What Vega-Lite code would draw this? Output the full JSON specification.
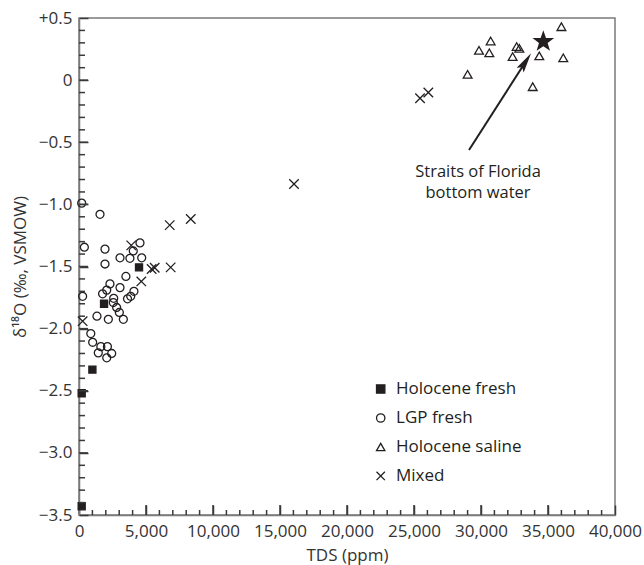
{
  "$schema": "https://vega.github.io/schema/vega-lite/v6.json",
  "width": 536,
  "height": 497,
  "autosize": {"type": "none"},
  "padding": {"left": 79, "top": 18, "right": 29, "bottom": 50},
  "config": {
    "font": "Open Sans",
    "view": {"stroke": "#7a7a7a", "strokeWidth": 1.5},
    "axis": {
      "grid": false,
      "labelOverlap": false,
      "labelFlush": false,
      "domainColor": "#7a7a7a",
      "domainWidth": 1.5,
      "tickColor": "#3a3a3a",
      "tickWidth": 1.5,
      "labelColor": "#333333",
      "labelFontSize": 17,
      "titleFontSize": 17,
      "titleFontWeight": "normal",
      "titleColor": "#333333"
    }
  },
  "resolve": {"axis": {"x": "independent", "y": "independent"}},
  "datasets": {
    "samples": [
      {"series": "Holocene fresh", "tds": 200, "d18o": -3.43},
      {"series": "Holocene fresh", "tds": 200, "d18o": -2.52},
      {"series": "Holocene fresh", "tds": 1000, "d18o": -2.33},
      {"series": "Holocene fresh", "tds": 1870, "d18o": -1.80},
      {"series": "Holocene fresh", "tds": 4480, "d18o": -1.507},
      {"series": "LGP fresh", "tds": 200, "d18o": -0.99},
      {"series": "LGP fresh", "tds": 1567, "d18o": -1.08},
      {"series": "LGP fresh", "tds": 400, "d18o": -1.345},
      {"series": "LGP fresh", "tds": 1940, "d18o": -1.36},
      {"series": "LGP fresh", "tds": 4550, "d18o": -1.31},
      {"series": "LGP fresh", "tds": 4050, "d18o": -1.375},
      {"series": "LGP fresh", "tds": 3060, "d18o": -1.43},
      {"series": "LGP fresh", "tds": 3800, "d18o": -1.434},
      {"series": "LGP fresh", "tds": 4680, "d18o": -1.43},
      {"series": "LGP fresh", "tds": 1940, "d18o": -1.48},
      {"series": "LGP fresh", "tds": 3500, "d18o": -1.58},
      {"series": "LGP fresh", "tds": 2310, "d18o": -1.64},
      {"series": "LGP fresh", "tds": 3060, "d18o": -1.67},
      {"series": "LGP fresh", "tds": 2070, "d18o": -1.69},
      {"series": "LGP fresh", "tds": 1760, "d18o": -1.72},
      {"series": "LGP fresh", "tds": 270, "d18o": -1.74},
      {"series": "LGP fresh", "tds": 2590, "d18o": -1.756},
      {"series": "LGP fresh", "tds": 4100, "d18o": -1.70},
      {"series": "LGP fresh", "tds": 3860, "d18o": -1.74},
      {"series": "LGP fresh", "tds": 3620, "d18o": -1.76},
      {"series": "LGP fresh", "tds": 2560, "d18o": -1.79},
      {"series": "LGP fresh", "tds": 2810, "d18o": -1.83},
      {"series": "LGP fresh", "tds": 3010, "d18o": -1.87},
      {"series": "LGP fresh", "tds": 3310, "d18o": -1.925},
      {"series": "LGP fresh", "tds": 1340, "d18o": -1.90},
      {"series": "LGP fresh", "tds": 2190, "d18o": -1.925},
      {"series": "LGP fresh", "tds": 880, "d18o": -2.04},
      {"series": "LGP fresh", "tds": 1020, "d18o": -2.11},
      {"series": "LGP fresh", "tds": 1630, "d18o": -2.145},
      {"series": "LGP fresh", "tds": 2120, "d18o": -2.145},
      {"series": "LGP fresh", "tds": 1440, "d18o": -2.195},
      {"series": "LGP fresh", "tds": 2440, "d18o": -2.20},
      {"series": "LGP fresh", "tds": 2070, "d18o": -2.235},
      {"series": "Holocene saline", "tds": 36000, "d18o": 0.43},
      {"series": "Holocene saline", "tds": 30720, "d18o": 0.315},
      {"series": "Holocene saline", "tds": 29850, "d18o": 0.24},
      {"series": "Holocene saline", "tds": 30620, "d18o": 0.22},
      {"series": "Holocene saline", "tds": 32660, "d18o": 0.27},
      {"series": "Holocene saline", "tds": 32860, "d18o": 0.256},
      {"series": "Holocene saline", "tds": 32360, "d18o": 0.19},
      {"series": "Holocene saline", "tds": 34350, "d18o": 0.195},
      {"series": "Holocene saline", "tds": 36140, "d18o": 0.18},
      {"series": "Holocene saline", "tds": 29000, "d18o": 0.047},
      {"series": "Holocene saline", "tds": 33860, "d18o": -0.053},
      {"series": "Mixed", "tds": 270, "d18o": -1.94},
      {"series": "Mixed", "tds": 3900, "d18o": -1.33},
      {"series": "Mixed", "tds": 4650, "d18o": -1.62},
      {"series": "Mixed", "tds": 5420, "d18o": -1.52},
      {"series": "Mixed", "tds": 5650, "d18o": -1.51},
      {"series": "Mixed", "tds": 6840, "d18o": -1.507},
      {"series": "Mixed", "tds": 6770, "d18o": -1.167},
      {"series": "Mixed", "tds": 8340, "d18o": -1.118},
      {"series": "Mixed", "tds": 16045, "d18o": -0.836},
      {"series": "Mixed", "tds": 25450, "d18o": -0.146},
      {"series": "Mixed", "tds": 26070, "d18o": -0.10}
    ],
    "legendrows": [
      {"series": "Holocene fresh", "order": 0},
      {"series": "LGP fresh", "order": 1},
      {"series": "Holocene saline", "order": 2},
      {"series": "Mixed", "order": 3}
    ],
    "xmajor": [{"tds": 5000}, {"tds": 10000}, {"tds": 15000}, {"tds": 20000}, {"tds": 25000}, {"tds": 30000}, {"tds": 35000}],
    "xminor": [{"tds": 1000}, {"tds": 2000}, {"tds": 3000}, {"tds": 4000}, {"tds": 6000}, {"tds": 7000}, {"tds": 8000}, {"tds": 9000}, {"tds": 11000}, {"tds": 12000}, {"tds": 13000}, {"tds": 14000}, {"tds": 16000}, {"tds": 17000}, {"tds": 18000}, {"tds": 19000}, {"tds": 21000}, {"tds": 22000}, {"tds": 23000}, {"tds": 24000}, {"tds": 26000}, {"tds": 27000}, {"tds": 28000}, {"tds": 29000}, {"tds": 31000}, {"tds": 32000}, {"tds": 33000}, {"tds": 34000}, {"tds": 36000}, {"tds": 37000}, {"tds": 38000}, {"tds": 39000}],
    "ymajor": [{"d18o": -3.0}, {"d18o": -2.5}, {"d18o": -2.0}, {"d18o": -1.5}, {"d18o": -1.0}, {"d18o": -0.5}, {"d18o": 0}],
    "yminor": [{"d18o": -3.4}, {"d18o": -3.3}, {"d18o": -3.2}, {"d18o": -3.1}, {"d18o": -2.9}, {"d18o": -2.8}, {"d18o": -2.7}, {"d18o": -2.6}, {"d18o": -2.4}, {"d18o": -2.3}, {"d18o": -2.2}, {"d18o": -2.1}, {"d18o": -1.9}, {"d18o": -1.8}, {"d18o": -1.7}, {"d18o": -1.6}, {"d18o": -1.4}, {"d18o": -1.3}, {"d18o": -1.2}, {"d18o": -1.1}, {"d18o": -0.9}, {"d18o": -0.8}, {"d18o": -0.7}, {"d18o": -0.6}, {"d18o": -0.4}, {"d18o": -0.3}, {"d18o": -0.2}, {"d18o": -0.1}, {"d18o": 0.1}, {"d18o": 0.2}, {"d18o": 0.3}, {"d18o": 0.4}],
    "star": [{"name": "Straits of Florida bottom water", "tds": 34650, "d18o": 0.31}],
    "arrow": [{"tds": 29106, "d18o": -0.562, "tds2": 33330, "d18o2": 0.148}],
    "arrowhead": [{"tds": 33330, "d18o": 0.148}],
    "label": [{"tds": 29780, "d18o": -0.78, "text": "Straits of Florida\nbottom water"}]
  },
  "layer": [
    {
      "data": {"name": "samples"},
      "mark": {"type": "point", "filled": true, "stroke": "#231f20", "strokeWidth": 1.3, "opacity": 1},
      "encoding": {
        "x": {
          "field": "tds",
          "type": "quantitative",
          "scale": {"domain": [0, 40000], "nice": false, "zero": false},
          "axis": {
            "orient": "bottom",
            "title": "TDS (ppm)",
            "values": [0, 5000, 10000, 15000, 20000, 25000, 30000, 35000, 40000],
            "format": ",d",
            "tickSize": -10,
            "labelPadding": 18,
            "titlePadding": 8
          }
        },
        "y": {
          "field": "d18o",
          "type": "quantitative",
          "scale": {"domain": [-3.5, 0.5], "nice": false, "zero": false},
          "axis": {
            "orient": "left",
            "title": "δ¹⁸O (‰, VSMOW)",
            "values": [-3.5, -3.0, -2.5, -2.0, -1.5, -1.0, -0.5, 0, 0.5],
            "labelExpr": "datum.value > 0.001 ? '+' + format(datum.value, '.1f') : (abs(datum.value) < 0.001 ? '0' : format(datum.value, '.1f'))",
            "tickSize": -9,
            "labelPadding": 16,
            "titlePadding": 9
          }
        },
        "shape": {
          "field": "series",
          "type": "nominal",
          "scale": {
            "domain": ["Holocene fresh", "LGP fresh", "Holocene saline", "Mixed"],
            "range": ["square", "circle", "triangle-up", "M-1,-1L1,1M-1,1L1,-1"]
          },
          "legend": null
        },
        "fill": {
          "field": "series",
          "type": "nominal",
          "scale": {
            "domain": ["Holocene fresh", "LGP fresh", "Holocene saline", "Mixed"],
            "range": ["#231f20", "transparent", "transparent", "transparent"]
          },
          "legend": null
        },
        "size": {
          "field": "series",
          "type": "nominal",
          "scale": {
            "domain": ["Holocene fresh", "LGP fresh", "Holocene saline", "Mixed"],
            "range": [50, 90, 95, 85]
          },
          "legend": null
        }
      }
    },
    {
      "data": {"name": "xmajor"},
      "mark": {"type": "tick", "orient": "vertical", "color": "#3a3a3a", "thickness": 1.5, "size": 10, "opacity": 1},
      "encoding": {
        "x": {"field": "tds", "type": "quantitative", "axis": null},
        "y": {"datum": -3.4598, "type": "quantitative", "axis": null}
      }
    },
    {
      "data": {"name": "xminor"},
      "mark": {"type": "tick", "orient": "vertical", "color": "#3a3a3a", "thickness": 1.5, "size": 5, "opacity": 1},
      "encoding": {
        "x": {"field": "tds", "type": "quantitative", "axis": null},
        "y": {"datum": -3.4799, "type": "quantitative", "axis": null}
      }
    },
    {
      "data": {"name": "ymajor"},
      "mark": {"type": "tick", "orient": "horizontal", "color": "#3a3a3a", "thickness": 1.5, "size": 9, "opacity": 1},
      "encoding": {
        "y": {"field": "d18o", "type": "quantitative", "axis": null},
        "x": {"datum": 336, "type": "quantitative", "axis": null}
      }
    },
    {
      "data": {"name": "yminor"},
      "mark": {"type": "tick", "orient": "horizontal", "color": "#3a3a3a", "thickness": 1.5, "size": 6, "opacity": 1},
      "encoding": {
        "y": {"field": "d18o", "type": "quantitative", "axis": null},
        "x": {"datum": 224, "type": "quantitative", "axis": null}
      }
    },
    {
      "data": {"name": "legendrows"},
      "transform": [
        {"calculate": "-2.486 - datum.order * 0.2333", "as": "d18o"},
        {"calculate": "22515", "as": "tds"}
      ],
      "mark": {"type": "point", "filled": true, "stroke": "#231f20", "strokeWidth": 1.3, "opacity": 1, "size": 70},
      "encoding": {
        "x": {"field": "tds", "type": "quantitative", "axis": null},
        "y": {"field": "d18o", "type": "quantitative", "axis": null},
        "shape": {"field": "series", "type": "nominal", "legend": null},
        "fill": {"field": "series", "type": "nominal", "legend": null}
      }
    },
    {
      "data": {"name": "legendrows"},
      "transform": [
        {"calculate": "-2.486 - datum.order * 0.2333", "as": "d18o"},
        {"calculate": "23657", "as": "tds"}
      ],
      "mark": {"type": "text", "align": "left", "baseline": "middle", "fontSize": 17, "color": "#231f20"},
      "encoding": {
        "x": {"field": "tds", "type": "quantitative", "axis": null},
        "y": {"field": "d18o", "type": "quantitative", "axis": null},
        "text": {"field": "series"}
      }
    },
    {
      "data": {"name": "arrow"},
      "mark": {"type": "rule", "color": "#231f20", "strokeWidth": 2},
      "encoding": {
        "x": {"field": "tds", "type": "quantitative", "axis": null},
        "y": {"field": "d18o", "type": "quantitative", "axis": null},
        "x2": {"field": "tds2"},
        "y2": {"field": "d18o2"}
      }
    },
    {
      "data": {"name": "arrowhead"},
      "mark": {"type": "point", "shape": "M0,-1L0.42,1L0,0.65L-0.42,1Z", "size": 400, "angle": 33, "filled": true, "fill": "#231f20", "strokeWidth": 0, "opacity": 1},
      "encoding": {
        "x": {"field": "tds", "type": "quantitative", "axis": null},
        "y": {"field": "d18o", "type": "quantitative", "axis": null}
      }
    },
    {
      "data": {"name": "star"},
      "mark": {"type": "point", "shape": "M0,-1L0.235,-0.324L0.951,-0.309L0.38,0.124L0.588,0.809L0,0.4L-0.588,0.809L-0.38,0.124L-0.951,-0.309L-0.235,-0.324Z", "size": 520, "filled": true, "fill": "#231f20", "strokeWidth": 0, "opacity": 1},
      "encoding": {
        "x": {"field": "tds", "type": "quantitative", "axis": null},
        "y": {"field": "d18o", "type": "quantitative", "axis": null}
      }
    },
    {
      "data": {"name": "label"},
      "mark": {"type": "text", "align": "center", "baseline": "alphabetic", "fontSize": 16.5, "lineHeight": 21, "lineBreak": "\n", "color": "#231f20"},
      "encoding": {
        "x": {"field": "tds", "type": "quantitative", "axis": null},
        "y": {"field": "d18o", "type": "quantitative", "axis": null},
        "text": {"field": "text"}
      }
    }
  ]
}
